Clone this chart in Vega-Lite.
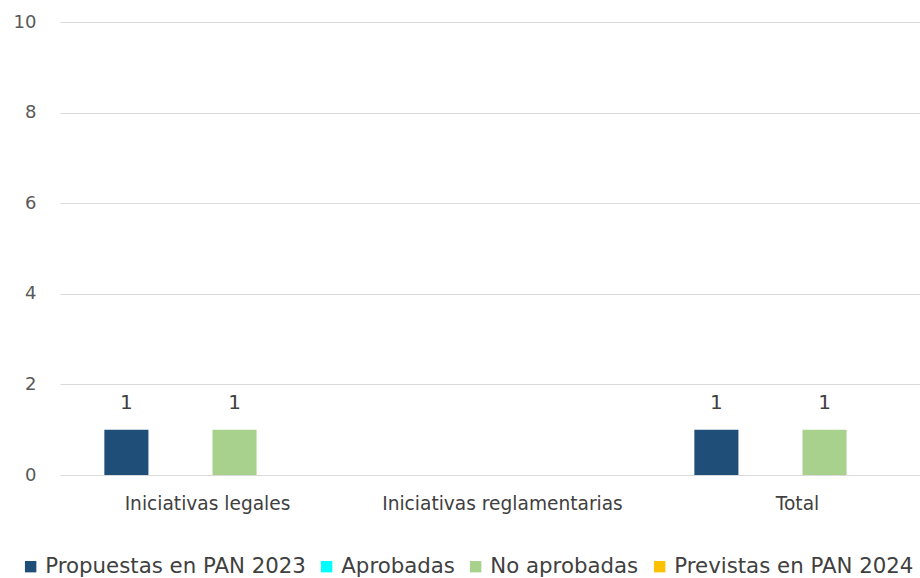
{
  "$schema": "https://vega.github.io/schema/vega-lite/v6.json",
  "autosize": "none",
  "width": 860,
  "height": 453,
  "padding": {"left": 60, "top": 22, "right": 0, "bottom": 103},
  "background": "white",
  "config": {
    "view": {"stroke": null},
    "font": "DejaVu Sans, sans-serif"
  },
  "data": {
    "values": [
      {"categoria": "Iniciativas legales", "serie": "Propuestas en PAN 2023", "valor": 1},
      {"categoria": "Iniciativas legales", "serie": "Aprobadas", "valor": 0},
      {"categoria": "Iniciativas legales", "serie": "No aprobadas", "valor": 1},
      {"categoria": "Iniciativas legales", "serie": "Previstas en PAN 2024", "valor": 0},
      {"categoria": "Iniciativas reglamentarias", "serie": "Propuestas en PAN 2023", "valor": 0},
      {"categoria": "Iniciativas reglamentarias", "serie": "Aprobadas", "valor": 0},
      {"categoria": "Iniciativas reglamentarias", "serie": "No aprobadas", "valor": 0},
      {"categoria": "Iniciativas reglamentarias", "serie": "Previstas en PAN 2024", "valor": 0},
      {"categoria": "Total", "serie": "Propuestas en PAN 2023", "valor": 1},
      {"categoria": "Total", "serie": "Aprobadas", "valor": 0},
      {"categoria": "Total", "serie": "No aprobadas", "valor": 1},
      {"categoria": "Total", "serie": "Previstas en PAN 2024", "valor": 0}
    ]
  },
  "encoding": {
    "x": {
      "field": "categoria",
      "type": "nominal",
      "sort": null,
      "scale": {"range": [0, 885], "paddingInner": 0, "paddingOuter": 0},
      "axis": {
        "title": null,
        "domain": false,
        "ticks": false,
        "labelAngle": 0,
        "labelFont": "DejaVu Sans",
        "labelFontSize": 18.6,
        "labelColor": "#404040",
        "labelPadding": 19,
        "labelLimit": 0
      }
    },
    "xOffset": {
      "field": "serie",
      "type": "nominal",
      "sort": ["Propuestas en PAN 2023", "Aprobadas", "No aprobadas", "Previstas en PAN 2024"],
      "scale": {"paddingInner": 0.185, "paddingOuter": 0.82}
    },
    "y": {
      "field": "valor",
      "type": "quantitative",
      "scale": {"domain": [0, 10]},
      "axis": {
        "title": null,
        "values": [0, 2, 4, 6, 8, 10],
        "domain": false,
        "ticks": false,
        "gridColor": "#d9d9d9",
        "gridWidth": 1,
        "labelFont": "DejaVu Sans",
        "labelFontSize": 18,
        "labelColor": "#595959",
        "labelPadding": 24
      }
    }
  },
  "layer": [
    {
      "mark": {"type": "bar", "clip": true},
      "encoding": {
        "color": {
          "field": "serie",
          "type": "nominal",
          "scale": {
            "domain": ["Propuestas en PAN 2023", "Aprobadas", "No aprobadas", "Previstas en PAN 2024"],
            "range": ["#1F4E79", "#00FFFF", "#A9D18E", "#FFC000"]
          },
          "legend": {
            "title": null,
            "orient": "none",
            "direction": "horizontal",
            "legendX": -40,
            "legendY": 534,
            "symbolType": "square",
            "symbolSize": 130,
            "symbolStrokeWidth": 0,
            "labelFont": "DejaVu Sans",
            "labelFontSize": 21.3,
            "labelColor": "#404040",
            "labelOffset": 4,
            "labelLimit": 0,
            "columnPadding": 10
          }
        }
      }
    },
    {
      "transform": [{"filter": "datum.valor > 0"}],
      "mark": {"type": "text", "dy": -17, "baseline": "bottom", "fontSize": 20, "font": "DejaVu Sans", "color": "#404040"},
      "encoding": {
        "text": {"field": "valor", "type": "quantitative"}
      }
    }
  ]
}
